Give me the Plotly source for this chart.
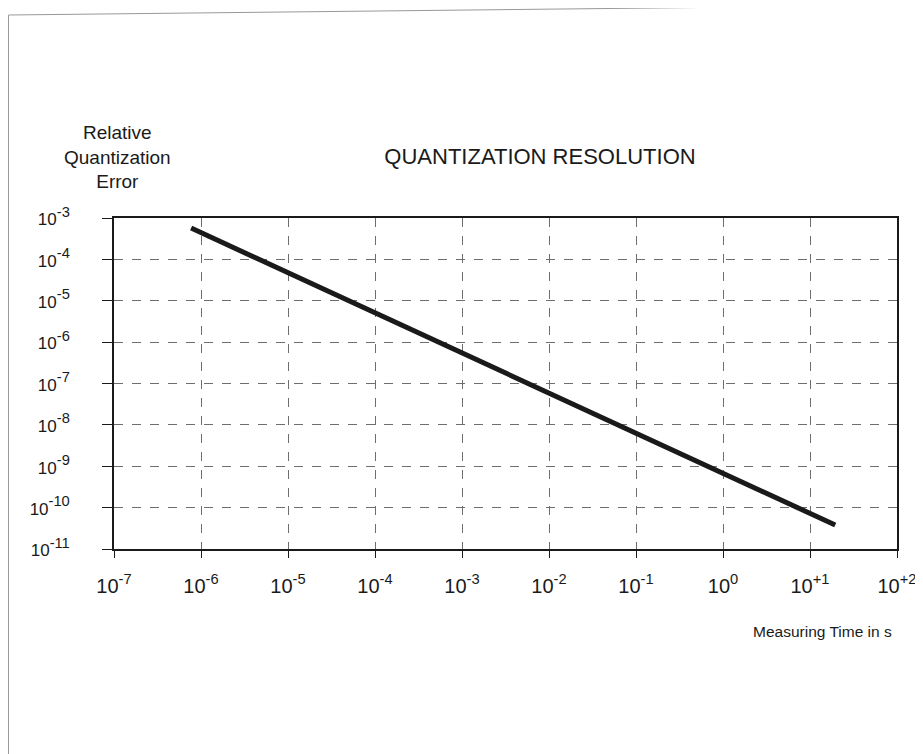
import plotly.graph_objects as go

meas_time = [7.7e-7, 19.5]
rel_error = [5.7e-4, 3.8e-11]

x_tickvals = [1e-7, 1e-6, 1e-5, 1e-4, 1e-3, 1e-2, 1e-1, 1e0, 1e1, 1e2]
x_exponents = ["-7", "-6", "-5", "-4", "-3", "-2", "-1", "0", "+1", "+2"]
y_tickvals = [1e-11, 1e-10, 1e-9, 1e-8, 1e-7, 1e-6, 1e-5, 1e-4, 1e-3]
y_exponents = ["-11", "-10", "-9", "-8", "-7", "-6", "-5", "-4", "-3"]

_FONT = "Liberation Sans, Arial, sans-serif"
_INK = "#1a1a1a"

W, H = 923, 754
# plot area in figure pixels (page is offset by the 8px body margin)
L, R, T, B = 106, 889, 210, 541


def px(x):
    return (x - L) / (R - L)


def py(y):
    return (B - y) / (B - T)


def power_label(exp, base_px):
    # sup is 70% of the tick font, so the base "10" gets its own size
    return f"<span style='font-size:{base_px}px'>10</span><sup>{exp}</sup>"


fig = go.Figure()
fig.add_trace(
    go.Scatter(
        x=meas_time,
        y=rel_error,
        mode="lines",
        line=dict(color=_INK, width=5),
        showlegend=False,
    )
)

fig.update_layout(
    width=W,
    height=H,
    paper_bgcolor="white",
    plot_bgcolor="white",
    font=dict(family=_FONT, color=_INK, size=17),
    margin=dict(l=L, r=W - R, t=T, b=H - B),
    title=dict(
        text="QUANTIZATION RESOLUTION",
        x=532 / W,
        xanchor="center",
        y=1 - 148 / H,
        yanchor="middle",
        font=dict(size=22, color=_INK),
    ),
)

grid = dict(
    showgrid=True,
    gridcolor="#6e6e6e",
    griddash="dash",
    gridwidth=1,
    showline=True,
    linecolor=_INK,
    linewidth=2,
    mirror=True,
    ticks="outside",
    tickcolor=_INK,
    zeroline=False,
)
fig.update_xaxes(
    type="log",
    range=[-7, 2],
    tickvals=x_tickvals,
    ticktext=[power_label(e, 20) for e in x_exponents],
    ticklen=7,
    ticklabelstandoff=10,
    tickfont=dict(size=21),
    **grid,
)
fig.update_yaxes(
    type="log",
    range=[-11, -3],
    tickvals=y_tickvals,
    ticktext=[power_label(e, 17) for e in y_exponents],
    ticklen=10,
    ticklabelstandoff=28,
    tickfont=dict(size=21),
    **grid,
)

fig.add_annotation(
    text="Relative<br>Quantization<br>Error",
    xref="paper", yref="paper",
    x=px(109), y=py(149),
    xanchor="center", yanchor="middle",
    showarrow=False, align="center",
    font=dict(size=19, color=_INK),
)
fig.add_annotation(
    text="Measuring Time in s",
    xref="paper", yref="paper",
    x=px(814), y=py(623),
    xanchor="center", yanchor="middle",
    showarrow=False,
    font=dict(size=15.5, color=_INK),
)

# scanned page edge
fig.add_shape(type="line", xref="paper", yref="paper",
              x0=px(0.5), y0=py(7), x1=px(0.5), y1=py(H),
              line=dict(color="#999", width=1))
fig.add_shape(type="line", xref="paper", yref="paper",
              x0=px(0.5), y0=py(7), x1=px(W), y1=py(-3),
              line=dict(color="#999", width=1))

fig.write_html("out.html")
